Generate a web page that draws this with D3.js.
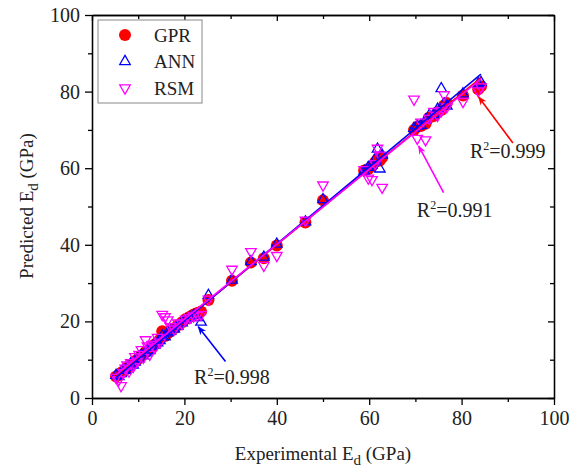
<!DOCTYPE html>
<meta charset="utf-8" />
<style>
  body { margin: 0; background: #fff; }
  text { font-family: "Liberation Serif", "Times New Roman", serif; fill: #222; }
  .tick text { font-size: 20px; }
  .axis path, .axis line { stroke: #000; stroke-width: 1.3; }
</style>
<svg width="579" height="474"></svg>
<script src="https://d3js.org/d3.v7.min.js"></script>
<script>
  // experimental Ed (GPa)
  var experimental = [5.2, 5.8, 6.3, 6.8, 7.2, 7.6, 8.0, 8.4, 8.9, 9.3, 9.8, 10.2, 10.7, 11.1, 11.6, 12.0, 12.5, 13.0, 13.6, 14.2,
    14.7, 15.2, 15.8, 16.4, 17.0, 17.8, 18.6, 19.5, 20.3, 21.2, 22.0, 22.8, 23.6, 25.2, 30.3, 34.4, 37.2, 40.0, 46.2, 50.0,
    58.9, 59.8, 60.6, 61.3, 61.8, 62.3, 62.8, 69.7, 70.4, 71.2, 72.2, 73.0, 74.0, 74.8, 75.6, 76.2, 76.8, 80.3, 83.6, 84.2];
  var gpr = [5.6, 6.0, 6.6, 7.0, 7.5, 7.8, 8.3, 8.6, 9.0, 9.6, 10.0, 10.6, 11.0, 11.4, 12.0, 12.3, 12.8, 13.2, 14.0, 14.6,
    15.2, 17.4, 16.2, 16.9, 17.5, 18.2, 19.0, 19.8, 20.6, 21.2, 21.8, 22.2, 22.6, 25.6, 30.6, 35.4, 36.5, 39.8, 45.8, 51.6,
    59.4, 59.8, 60.6, 61.6, 62.4, 62.0, 62.8, 70.0, 70.8, 71.0, 71.6, 73.2, 73.6, 74.6, 75.2, 76.4, 77.0, 79.0, 80.6, 81.4];
  var ann = [5.9, 5.6, 6.4, 7.3, 7.2, 8.1, 8.0, 8.9, 8.6, 9.4, 10.3, 10.2, 11.2, 11.0, 11.8, 12.4, 12.4, 13.4, 13.8, 14.4,
    15.0, 16.2, 16.0, 17.0, 17.4, 18.0, 18.8, 19.6, 20.4, 21.0, 21.6, 21.0, 19.8, 26.8, 30.8, 35.6, 36.8, 40.2, 46.0, 51.8,
    59.2, 60.2, 60.8, 62.4, 65.0, 59.8, 63.4, 70.4, 71.0, 71.2, 72.6, 73.8, 74.0, 75.4, 80.8, 76.8, 76.2, 79.4, 82.0, 82.4];
  var rsm = [5.4, 4.8, 3.2, 6.6, 7.8, 8.6, 7.0, 9.2, 8.2, 10.8, 9.6, 11.4, 12.6, 10.6, 15.2, 13.6, 11.4, 14.0, 13.2, 15.8,
    14.6, 21.8, 21.2, 20.4, 18.6, 18.0, 19.6, 19.4, 20.6, 21.0, 21.4, 21.6, 21.8, 25.8, 33.6, 38.2, 34.6, 37.2, 46.4, 55.6,
    59.6, 57.4, 57.0, 61.2, 65.2, 63.4, 55.0, 78.0, 67.8, 72.0, 67.4, 73.0, 74.8, 73.8, 75.0, 79.2, 76.0, 77.4, 80.2, 81.2];

  var seriesNames = ["GPR", "ANN", "RSM"];
  var seriesColors = ["#ff0000", "#0000ff", "#ff00ff"];
  var r2Labels = ["0.999", "0.998", "0.991"];
  var xTicks = [0, 20, 40, 60, 80, 100];
  var yTicks = [0, 20, 40, 60, 80, 100];

  var svg = d3.select("svg"),
    margin = { top: 15, right: 25, bottom: 76, left: 92 },
    width = 554 - margin.left,
    height = 398 - margin.top,
    g = svg.append("g").attr("transform", "translate(" + margin.left + "," + margin.top + ")");

  var x = d3.scaleLinear().domain([0, 100]).range([0, width]);
  var y = d3.scaleLinear().domain([0, 100]).range([height, 0]);
  var minor = d3.range(10, 100, 20);

  // axes: left/bottom outward ticks, top/right inward
  g.append("g").attr("class", "axis").attr("transform", "translate(0," + height + ")")
    .call(d3.axisBottom(x).tickValues(xTicks).tickSize(7).tickPadding(6).tickSizeOuter(0));
  g.append("g").attr("class", "axis").attr("transform", "translate(0," + height + ")")
    .call(d3.axisBottom(x).tickValues(minor).tickSize(4).tickFormat("").tickSizeOuter(0));
  g.append("g").attr("class", "axis")
    .call(d3.axisLeft(y).tickValues(yTicks).tickSize(7).tickPadding(5).tickSizeOuter(0));
  g.append("g").attr("class", "axis")
    .call(d3.axisLeft(y).tickValues(minor).tickSize(4).tickFormat("").tickSizeOuter(0));
  g.append("g").attr("class", "axis")
    .call(d3.axisTop(x).tickValues(xTicks).tickSize(-6).tickFormat("").tickSizeOuter(0));
  g.append("g").attr("class", "axis")
    .call(d3.axisTop(x).tickValues(minor).tickSize(-4).tickFormat("").tickSizeOuter(0));
  g.append("g").attr("class", "axis").attr("transform", "translate(" + width + ",0)")
    .call(d3.axisRight(y).tickValues(yTicks).tickSize(-6).tickFormat("").tickSizeOuter(0));
  g.append("g").attr("class", "axis").attr("transform", "translate(" + width + ",0)")
    .call(d3.axisRight(y).tickValues(minor).tickSize(-4).tickFormat("").tickSizeOuter(0));

  g.selectAll(".tick text").attr("fill", "#222");

  // axis titles
  var xt = svg.append("text").attr("x", margin.left + width / 2).attr("y", 460)
    .attr("text-anchor", "middle").style("font-size", "19px");
  xt.append("tspan").text("Experimental E");
  xt.append("tspan").attr("dy", 5).style("font-size", "15px").text("d");
  xt.append("tspan").attr("dy", -5).text(" (GPa)");

  var yt = svg.append("text").attr("transform", "translate(33," + (margin.top + 191) + ") rotate(-90)")
    .attr("text-anchor", "middle").style("font-size", "19px");
  yt.append("tspan").text("Predicted E");
  yt.append("tspan").attr("dy", 5).style("font-size", "15px").text("d");
  yt.append("tspan").attr("dy", -5).text(" (GPa)");

  var predicted = [gpr, ann, rsm];
  var shapes = [
    function (sel, c) { sel.append("circle").attr("r", 6).attr("fill", c); },
    function (sel, c) { sel.append("path").attr("d", d3.symbol(d3.symbolTriangle, 48)()).attr("fill", "none").attr("stroke", c).attr("stroke-width", 1.3); },
    function (sel, c) { sel.append("path").attr("d", d3.symbol(d3.symbolTriangle, 48)()).attr("transform", "rotate(180)").attr("fill", "none").attr("stroke", c).attr("stroke-width", 1.3); }
  ];

  var plot = g.append("g");
  predicted.forEach(function (vals, k) {
    plot.selectAll(".pt" + k).data(vals).enter().append("g")
      .attr("transform", function (d, i) { return "translate(" + x(experimental[i]) + "," + y(d) + ")"; })
      .each(function () { shapes[k](d3.select(this), seriesColors[k]); });
  });

  // linear fit lines
  var xMin = d3.min(experimental), xMax = d3.max(experimental), mx = d3.mean(experimental);
  predicted.forEach(function (vals, k) {
    var my = d3.mean(vals), sxy = 0, sxx = 0;
    vals.forEach(function (v, i) { sxy += (experimental[i] - mx) * (v - my); sxx += (experimental[i] - mx) * (experimental[i] - mx); });
    var b = sxy / sxx, a = my - b * mx;
    plot.append("line").attr("x1", x(xMin)).attr("y1", y(a + b * xMin)).attr("x2", x(xMax)).attr("y2", y(a + b * xMax))
      .attr("stroke", seriesColors[k]).attr("stroke-width", 1.6);
  });

  // annotations with arrows (data units)
  var annTail = [[91.1, 66.6], [28.9, 9.5], [76.1, 53.6]];
  var annHead = [[83.7, 78.6], [23.0, 18.6], [70.7, 65.8]];
  var annText = [[81.8, 62.7], [22.1, 3.7], [70.3, 47.3]];

  var defs = svg.append("defs");
  seriesColors.forEach(function (c, k) {
    defs.append("marker").attr("id", "arr" + k).attr("viewBox", "0 0 10 10").attr("refX", 9).attr("refY", 5)
      .attr("markerWidth", 9).attr("markerHeight", 9).attr("markerUnits", "userSpaceOnUse").attr("orient", "auto")
      .append("path").attr("d", "M0,1L10,5L0,9L3,5Z").attr("fill", c);
  });
  annTail.forEach(function (t, k) {
    g.append("line").attr("x1", x(t[0])).attr("y1", y(t[1])).attr("x2", x(annHead[k][0])).attr("y2", y(annHead[k][1]))
      .attr("stroke", seriesColors[k]).attr("stroke-width", 1.6).attr("marker-end", "url(#arr" + k + ")");
    var tx = g.append("text").attr("x", x(annText[k][0])).attr("y", y(annText[k][1])).style("font-size", "20px");
    tx.append("tspan").text("R");
    tx.append("tspan").attr("dy", -8).style("font-size", "12px").text("2");
    tx.append("tspan").attr("dy", 8).text("=" + r2Labels[k]);
  });

  // legend
  var lg = g.append("g").attr("transform", "translate(6,5)");
  lg.append("rect").attr("width", 104).attr("height", 83).attr("fill", "#fff").attr("stroke", "#888").attr("stroke-width", 1);
  seriesNames.forEach(function (n, k) {
    var row = lg.append("g").attr("transform", "translate(27," + (15 + k * 26.5) + ")");
    shapes[k](row, seriesColors[k]);
    row.append("text").attr("x", 29).attr("dy", "0.35em").style("font-size", "19px").text(n);
  });
</script>
